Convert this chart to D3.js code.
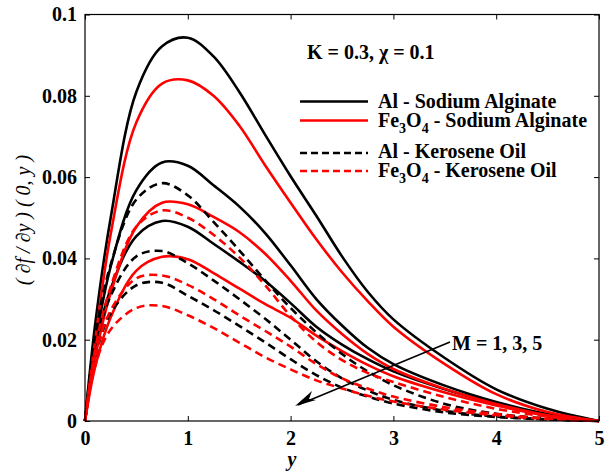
<!DOCTYPE html>
<html>
<head>
<meta charset="utf-8">
<script src="https://cdn.jsdelivr.net/npm/d3@7"></script>
<style>
  html, body { margin: 0; padding: 0; background: #fff; }
  svg { display: block; }
</style>
</head>
<body>
<svg id="chart" width="613" height="471"></svg>
<script>
// ---- data ----
const xs = [0, 0.1, 0.25, 0.5, 0.75, 1, 1.25, 1.5, 1.75, 2, 2.25, 2.5, 2.75, 3, 3.5, 4, 4.5, 5];

// Al - Sodium Alginate (black solid), M = 1, 3, 5
const alSA_M1 = [0, 0.024, 0.0500, 0.0810, 0.0922, 0.0943, 0.0897, 0.0810, 0.0705, 0.0602, 0.0505, 0.0405, 0.0318, 0.0250, 0.0155, 0.0078, 0.0030, 0];
const alSA_M3 = [0, 0.019, 0.0380, 0.0568, 0.0636, 0.0628, 0.0580, 0.0528, 0.0463, 0.0383, 0.0300, 0.0235, 0.0180, 0.0140, 0.0087, 0.0047, 0.0017, 0];
const alSA_M5 = [0, 0.0178, 0.0325, 0.0455, 0.0492, 0.0478, 0.0436, 0.0392, 0.0345, 0.0290, 0.0232, 0.0188, 0.0152, 0.0122, 0.0078, 0.0043, 0.0015, 0];

// Fe3O4 - Sodium Alginate (red solid)
const feSA_M1 = [0, 0.020, 0.0460, 0.0735, 0.0830, 0.0838, 0.0800, 0.0727, 0.0630, 0.0537, 0.0447, 0.0366, 0.0295, 0.0232, 0.0140, 0.0066, 0.0022, 0];
const feSA_M3 = [0, 0.0157, 0.0315, 0.0478, 0.0537, 0.0533, 0.0502, 0.0465, 0.0412, 0.0345, 0.0272, 0.0214, 0.0165, 0.0128, 0.0079, 0.0042, 0.0014, 0];
const feSA_M5 = [0, 0.0134, 0.0255, 0.0370, 0.0404, 0.0398, 0.0364, 0.0326, 0.0288, 0.0254, 0.0210, 0.0172, 0.0138, 0.0110, 0.0070, 0.0038, 0.0013, 0];

// Al - Kerosene Oil (black dashed)
const alKO_M1 = [0, 0.021, 0.0385, 0.0545, 0.0585, 0.0555, 0.0490, 0.0420, 0.0347, 0.0278, 0.0218, 0.0165, 0.0122, 0.0088, 0.0042, 0.0018, 0.0006, 0];
const alKO_M3 = [0, 0.0177, 0.0308, 0.0405, 0.0418, 0.0388, 0.0346, 0.0300, 0.0252, 0.0200, 0.0147, 0.0105, 0.0075, 0.0052, 0.0025, 0.0011, 0.0004, 0];
const alKO_M5 = [0, 0.0158, 0.0265, 0.0334, 0.0340, 0.0308, 0.0273, 0.0234, 0.0194, 0.0152, 0.0113, 0.0082, 0.0060, 0.0043, 0.0021, 0.0010, 0.0004, 0];

// Fe3O4 - Kerosene Oil (red dashed)
const feKO_M1 = [0, 0.0177, 0.0330, 0.0478, 0.0518, 0.0500, 0.0458, 0.0403, 0.0335, 0.0258, 0.0195, 0.0150, 0.0118, 0.0096, 0.0059, 0.0030, 0.0011, 0];
const feKO_M3 = [0, 0.0160, 0.0272, 0.0351, 0.0358, 0.0335, 0.0300, 0.0260, 0.0222, 0.0183, 0.0140, 0.0105, 0.0080, 0.0060, 0.0034, 0.0017, 0.0006, 0];
const feKO_M5 = [0, 0.0137, 0.0225, 0.0278, 0.0283, 0.0260, 0.0229, 0.0193, 0.0157, 0.0127, 0.0100, 0.0080, 0.0062, 0.0048, 0.0028, 0.0014, 0.0005, 0];

const xTicks = [0, 1, 2, 3, 4, 5];
const xTickLabels = ["0", "1", "2", "3", "4", "5"];
const yTicks = [0, 0.02, 0.04, 0.06, 0.08, 0.1];
const yTickLabels = ["0", "0.02", "0.04", "0.06", "0.08", "0.1"];

const series = [
  { name: "alSA", values: [alSA_M1, alSA_M3, alSA_M5], color: "#000", dash: null },
  { name: "feSA", values: [feSA_M1, feSA_M3, feSA_M5], color: "#ff0000", dash: null },
  { name: "alKO", values: [alKO_M1, alKO_M3, alKO_M5], color: "#000", dash: "8,5" },
  { name: "feKO", values: [feKO_M1, feKO_M3, feKO_M5], color: "#ff0000", dash: "8,5" }
];

// ---- pick an installed serif font (Times-like) ----
function fontAvailable(name) {
  const c = document.createElement("canvas").getContext("2d");
  const s = "mmmmmmmmmmlliWW0.08 Alginate";
  let differs = false;
  ["monospace", "sans-serif"].forEach(base => {
    c.font = "20px " + base;
    const w0 = c.measureText(s).width;
    c.font = "20px '" + name + "', " + base;
    const w1 = c.measureText(s).width;
    if (Math.abs(w0 - w1) > 0.5) differs = true;
  });
  return differs;
}
const candidates = ["Liberation Serif", "Times New Roman", "Tinos", "Nimbus Roman", "Nimbus Roman No9 L", "FreeSerif", "DejaVu Serif", "Noto Serif"];
let serifName = candidates.find(fontAvailable);
const FF = serifName ? `'${serifName}', serif` : "serif";

// ---- layout ----
const svg = d3.select("#chart");
const L = 85, R = 599, T = 14.5, B = 421;
const x = d3.scaleLinear().domain([0, 5]).range([L, R]);
const y = d3.scaleLinear().domain([0, 0.1]).range([B, T]);

const line = d3.line()
  .x((d, i) => x(xs[i]))
  .y(d => y(d))
  .curve(d3.curveCatmullRom.alpha(0.5));

const plot = svg.append("g");
series.forEach(s => {
  s.values.forEach(v => {
    plot.append("path")
      .attr("d", line(v))
      .attr("fill", "none")
      .attr("stroke", s.color)
      .attr("stroke-width", 2.6)
      .attr("stroke-dasharray", s.dash)
      .attr("stroke-linejoin", "round");
  });
});

// axes box
svg.append("rect").attr("x", L).attr("y", T).attr("width", R - L).attr("height", B - T)
  .attr("fill", "none").attr("stroke", "#000").attr("stroke-width", 1.2);

const axB = d3.axisBottom(x).tickValues(xTicks).tickSizeInner(-5).tickSizeOuter(0).tickFormat((d, i) => xTickLabels[i]).tickPadding(10);
const axT = d3.axisTop(x).tickValues(xTicks).tickSizeInner(-5).tickSizeOuter(0).tickFormat("");
const axL = d3.axisLeft(y).tickValues(yTicks).tickSizeInner(-5).tickSizeOuter(0).tickFormat((d, i) => yTickLabels[i]).tickPadding(8);
const axR = d3.axisRight(y).tickValues(yTicks).tickSizeInner(-5).tickSizeOuter(0).tickFormat("");

function styleAxis(g) {
  g.attr("font-family", null).attr("font-size", null);
  g.select(".domain").remove();
  g.selectAll("line").attr("stroke", "#000").attr("stroke-width", 1);
  g.selectAll("text").style("font-family", FF).style("font-size", "20px").style("font-weight", "bold").attr("fill", "#000");
}
svg.append("g").attr("transform", `translate(0,${B})`).call(axB).call(styleAxis);
svg.append("g").attr("transform", `translate(0,${T})`).call(axT).call(styleAxis);
svg.append("g").attr("transform", `translate(${L},0)`).call(axL).call(styleAxis);
svg.append("g").attr("transform", `translate(${R},0)`).call(axR).call(styleAxis);

function txt(xp, yp, size, weight, style) {
  return svg.append("text").attr("x", xp).attr("y", yp)
    .style("font-family", FF).style("font-size", size + "px")
    .style("font-weight", weight).style("font-style", style);
}

// axis titles
txt(292, 466, 20, "bold", "italic").attr("text-anchor", "middle").text("y");
svg.append("text")
  .attr("transform", "translate(30,220) rotate(-90)")
  .attr("text-anchor", "middle")
  .style("font-family", FF).style("font-size", "20px").style("font-style", "italic")
  .text("( \u2202f / \u2202y ) ( 0, y )");

// parameter text
txt(307, 59, 20, "bold", "normal").text("K = 0.3, \u03C7 = 0.1");

// legend
const legend = [
  { label: ["Al", null, "", null, " - Sodium Alginate"], color: "#000", dash: null, ly: 101.5, ty: 108 },
  { label: ["Fe", "3", "O", "4", " - Sodium Alginate"], color: "#ff0000", dash: null, ly: 120.5, ty: 127 },
  { label: ["Al", null, "", null, " - Kerosene Oil"], color: "#000", dash: "7,4", ly: 153, ty: 158 },
  { label: ["Fe", "3", "O", "4", " - Kerosene Oil"], color: "#ff0000", dash: "7,4", ly: 171, ty: 177 }
];
legend.forEach(l => {
  svg.append("line").attr("x1", 300).attr("x2", 368).attr("y1", l.ly).attr("y2", l.ly)
    .attr("stroke", l.color).attr("stroke-width", 2.4).attr("stroke-dasharray", l.dash);
  const t = txt(378, l.ty, 20, "bold", "normal");
  const [a, s1, b, s2, c] = l.label;
  t.append("tspan").text(a);
  if (s1) {
    t.append("tspan").attr("dy", 6).style("font-size", "14px").text(s1);
    t.append("tspan").attr("dy", -6).text(b);
    t.append("tspan").attr("dy", 6).style("font-size", "14px").text(s2);
    t.append("tspan").attr("dy", -6).text(c);
  } else {
    t.append("tspan").text(c);
  }
});

// M annotation and arrow
svg.append("line").attr("x1", 450).attr("y1", 342).attr("x2", 298).attr("y2", 405)
  .attr("stroke", "#000").attr("stroke-width", 1.6);
svg.append("path").attr("d", "M295,406 L312,391 L309,399 L316,400 Z").attr("fill", "#000");
txt(452, 350, 20, "bold", "normal").text("M = 1, 3, 5");
</script>
</body>
</html>
